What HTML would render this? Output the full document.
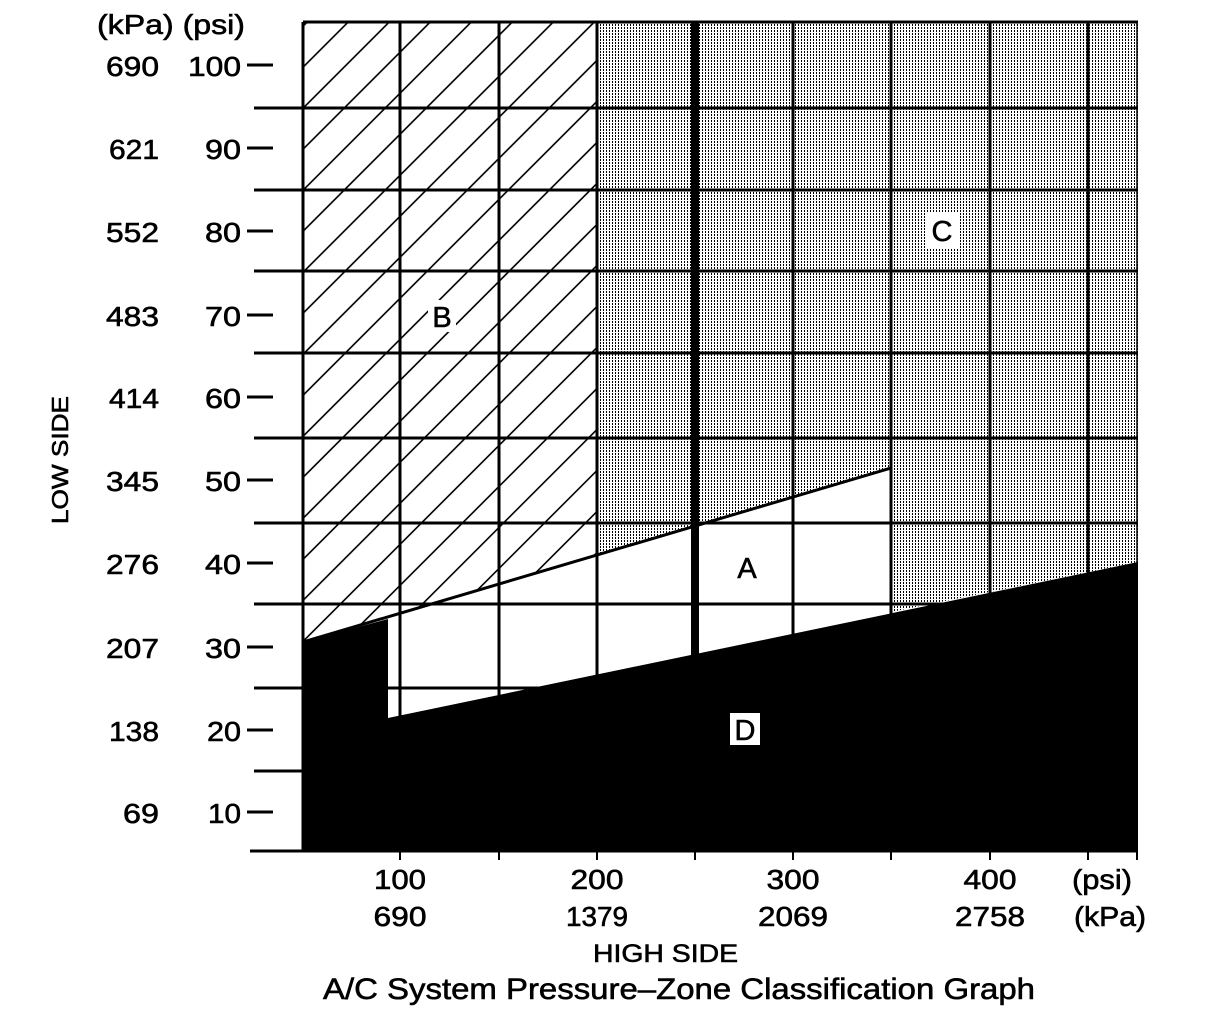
<!DOCTYPE html>
<html><head><meta charset="utf-8"><style>
html,body{margin:0;padding:0;background:#fff;}
svg{display:block;}
text{font-family:"Liberation Sans",Arial,sans-serif;fill:#000;stroke:#000;stroke-width:0.6;}
</style></head><body>
<svg width="1216" height="1018" viewBox="0 0 1216 1018" xmlns="http://www.w3.org/2000/svg">
<defs>
<pattern id="dots" width="3" height="3" patternUnits="userSpaceOnUse">
<rect width="3" height="3" fill="#fff"/>
<rect x="0" y="0" width="1" height="2" fill="#000"/>
</pattern>
<pattern id="hatch" width="29" height="29" patternUnits="userSpaceOnUse" patternTransform="rotate(45)">
<rect width="29" height="29" fill="#fff"/>
<rect x="0" y="0" width="1.6" height="29" fill="#000"/>
</pattern>
</defs>

<polygon points="303,22 597,22 597,555 303,642" fill="url(#hatch)"/>
<polygon points="597,22 1138,22 1138,562 891,612 891,468 597,555" fill="url(#dots)"/>
<line x1="303" y1="642" x2="891" y2="468" stroke="#000" stroke-width="3"/>

<g stroke="#000" stroke-width="3">
<line x1="254" y1="108" x2="1138" y2="108"/>
<line x1="254" y1="190" x2="1138" y2="190"/>
<line x1="254" y1="271" x2="1138" y2="271"/>
<line x1="254" y1="353" x2="1138" y2="353"/>
<line x1="254" y1="438" x2="1138" y2="438"/>
<line x1="254" y1="523" x2="1138" y2="523"/>
<line x1="254" y1="604" x2="1138" y2="604"/>
<line x1="254" y1="688" x2="1138" y2="688"/>
<line x1="254" y1="771" x2="1138" y2="771"/>
<line x1="303" y1="22" x2="1138" y2="22"/>
<line x1="303" y1="22" x2="303" y2="851"/>
<line x1="400" y1="22" x2="400" y2="851"/>
<line x1="499" y1="22" x2="499" y2="851"/>
<line x1="597" y1="22" x2="597" y2="851"/>
<line x1="793" y1="22" x2="793" y2="851"/>
<line x1="891" y1="22" x2="891" y2="851"/>
<line x1="990" y1="22" x2="990" y2="851"/>
<line x1="1088" y1="22" x2="1088" y2="851"/>
</g>
<line x1="1137" y1="22" x2="1137" y2="851" stroke="#000" stroke-width="1.5"/>
<rect x="691" y="22" width="8" height="829" fill="#000"/>

<polygon points="303,642 388,619 388,718 1138,562 1138,851 303,851" fill="#000"/>

<line x1="250" y1="851" x2="1138" y2="851" stroke="#000" stroke-width="3"/>
<g stroke="#000" stroke-width="2">
<line x1="400" y1="851" x2="400" y2="860"/>
<line x1="499" y1="851" x2="499" y2="860"/>
<line x1="597" y1="851" x2="597" y2="860"/>
<line x1="695" y1="851" x2="695" y2="860"/>
<line x1="793" y1="851" x2="793" y2="860"/>
<line x1="891" y1="851" x2="891" y2="860"/>
<line x1="990" y1="851" x2="990" y2="860"/>
<line x1="1088" y1="851" x2="1088" y2="860"/>
<line x1="1137" y1="851" x2="1137" y2="860"/>
</g>
<g stroke="#000" stroke-width="3">
<line x1="247" y1="65" x2="273" y2="65"/>
<line x1="247" y1="148" x2="273" y2="148"/>
<line x1="247" y1="231" x2="273" y2="231"/>
<line x1="247" y1="315" x2="273" y2="315"/>
<line x1="247" y1="397" x2="273" y2="397"/>
<line x1="247" y1="480" x2="273" y2="480"/>
<line x1="247" y1="563" x2="273" y2="563"/>
<line x1="247" y1="647" x2="273" y2="647"/>
<line x1="247" y1="730" x2="273" y2="730"/>
<line x1="247" y1="812" x2="273" y2="812"/>
</g>

<text x="97" y="34" font-size="28" textLength="148" lengthAdjust="spacingAndGlyphs">(kPa) (psi)</text>
<g font-size="28" text-anchor="end">
<text x="159" y="76" textLength="53" lengthAdjust="spacingAndGlyphs">690</text><text x="241" y="76" textLength="53" lengthAdjust="spacingAndGlyphs">100</text>
<text x="159" y="159" textLength="50" lengthAdjust="spacingAndGlyphs">621</text><text x="241" y="159" textLength="36" lengthAdjust="spacingAndGlyphs">90</text>
<text x="159" y="242" textLength="53" lengthAdjust="spacingAndGlyphs">552</text><text x="241" y="242" textLength="36" lengthAdjust="spacingAndGlyphs">80</text>
<text x="159" y="326" textLength="53" lengthAdjust="spacingAndGlyphs">483</text><text x="241" y="326" textLength="36" lengthAdjust="spacingAndGlyphs">70</text>
<text x="159" y="408" textLength="50" lengthAdjust="spacingAndGlyphs">414</text><text x="241" y="408" textLength="36" lengthAdjust="spacingAndGlyphs">60</text>
<text x="159" y="491" textLength="53" lengthAdjust="spacingAndGlyphs">345</text><text x="241" y="491" textLength="36" lengthAdjust="spacingAndGlyphs">50</text>
<text x="159" y="574" textLength="53" lengthAdjust="spacingAndGlyphs">276</text><text x="241" y="574" textLength="36" lengthAdjust="spacingAndGlyphs">40</text>
<text x="159" y="658" textLength="53" lengthAdjust="spacingAndGlyphs">207</text><text x="241" y="658" textLength="36" lengthAdjust="spacingAndGlyphs">30</text>
<text x="159" y="741" textLength="50" lengthAdjust="spacingAndGlyphs">138</text><text x="241" y="741" textLength="34" lengthAdjust="spacingAndGlyphs">20</text>
<text x="159" y="823" textLength="36" lengthAdjust="spacingAndGlyphs">69</text><text x="241" y="823" textLength="33" lengthAdjust="spacingAndGlyphs">10</text>
</g>
<text x="0" y="0" font-size="23" text-anchor="middle" transform="translate(68,460) rotate(-90)" textLength="128" lengthAdjust="spacingAndGlyphs">LOW SIDE</text>

<g font-size="28" text-anchor="middle">
<text x="400" y="889" textLength="52" lengthAdjust="spacingAndGlyphs">100</text><text x="597" y="889" textLength="53" lengthAdjust="spacingAndGlyphs">200</text><text x="793" y="889" textLength="53" lengthAdjust="spacingAndGlyphs">300</text><text x="990" y="889" textLength="53" lengthAdjust="spacingAndGlyphs">400</text>
<text x="400" y="926" textLength="53" lengthAdjust="spacingAndGlyphs">690</text><text x="597" y="926" textLength="62" lengthAdjust="spacingAndGlyphs">1379</text><text x="793" y="926" textLength="70" lengthAdjust="spacingAndGlyphs">2069</text><text x="990" y="926" textLength="70" lengthAdjust="spacingAndGlyphs">2758</text>
<text x="1102" y="889" textLength="60" lengthAdjust="spacingAndGlyphs">(psi)</text><text x="1110" y="926" textLength="72" lengthAdjust="spacingAndGlyphs">(kPa)</text>
</g>
<text x="593" y="962" font-size="25" textLength="145" lengthAdjust="spacingAndGlyphs">HIGH SIDE</text>
<text x="323" y="999" font-size="30" textLength="712" lengthAdjust="spacingAndGlyphs">A/C System Pressure–Zone Classification Graph</text>

<rect x="428" y="300" width="28" height="32" fill="#fff"/>
<text x="442" y="327" font-size="29" text-anchor="middle">B</text>
<rect x="925" y="212" width="35" height="36" fill="#fff"/>
<text x="942" y="241" font-size="29" text-anchor="middle">C</text>
<text x="747" y="578" font-size="29" text-anchor="middle">A</text>
<rect x="730" y="713" width="30" height="32" fill="#fff"/>
<text x="745" y="740" font-size="29" text-anchor="middle">D</text>
</svg>
</body></html>
